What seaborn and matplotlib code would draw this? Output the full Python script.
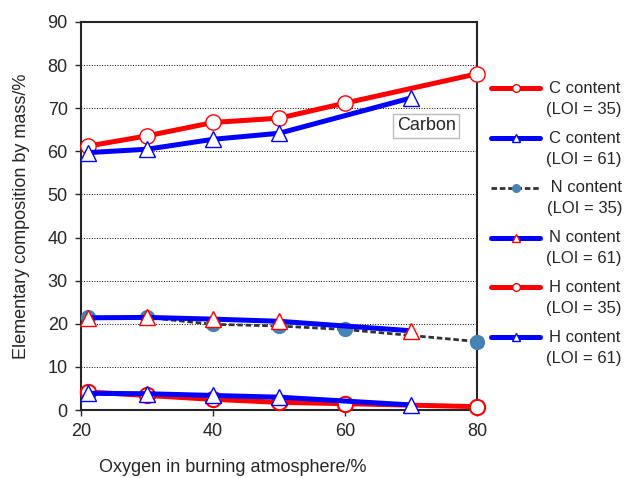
import matplotlib
matplotlib.use('Agg')
import matplotlib.pyplot as plt
from matplotlib.lines import Line2D
from matplotlib.legend_handler import HandlerLine2D
import seaborn as sns
import pandas as pd

sns.set_style('ticks')
plt.rcParams['font.family'] = ['Liberation Sans', 'DejaVu Sans']

# oxygen level (%) and elemental composition (mass %)
x_c35 = [21, 30, 40, 50, 60, 80]
c_loi35 = [61.2, 63.6, 66.7, 67.7, 71.2, 78.0]
x_c61 = [21, 30, 40, 50, 70]
c_loi61 = [59.7, 60.5, 62.8, 64.2, 72.4]
x_n35 = [21, 30, 40, 50, 60, 80]
n_loi35 = [21.6, 21.5, 19.9, 19.5, 18.7, 15.9]
x_n61 = [21, 30, 40, 50, 70]
n_loi61 = [21.4, 21.5, 21.1, 20.6, 18.4]
x_h35 = [21, 30, 40, 50, 60, 80]
h_loi35 = [4.2, 3.4, 2.5, 1.8, 1.5, 0.8]
x_h61 = [21, 30, 40, 50, 70]
h_loi61 = [3.9, 3.8, 3.4, 3.0, 1.2]

labels = ['C content\n(LOI = 35)', 'C content\n(LOI = 61)', ' N content\n(LOI = 35)',
          'N content\n(LOI = 61)', 'H content\n(LOI = 35)', 'H content\n(LOI = 61)']

fig = plt.figure(figsize=(6.28, 4.78), dpi=100)
ax = fig.add_axes([0.129, 0.142, 0.631, 0.812])

styles = [
    dict(color='red', lw=3.6, marker='o', ms=11, mfc='white', mec='red', mew=1),
    dict(color='blue', lw=3.6, marker='^', ms=11, mfc='white', mec='blue', mew=1),
    dict(color='#333333', lw=2, ls=(0, (2, 1)), marker='o', ms=11, mfc='steelblue', mec='steelblue', mew=0),
    dict(color='blue', lw=3.6, marker='^', ms=11, mfc='white', mec='red', mew=1),
    dict(color='red', lw=3.6, marker='o', ms=11, mfc='white', mec='red', mew=1.5),
    dict(color='blue', lw=3.6, marker='^', ms=11, mfc='white', mec='blue', mew=1),
]
series = [(x_c35, c_loi35), (x_c61, c_loi61), (x_n35, n_loi35),
          (x_n61, n_loi61), (x_h35, h_loi35), (x_h61, h_loi61)]

for i, (xs, ys) in enumerate(series):
    df = pd.DataFrame({'x': xs, 'y': ys})
    sns.lineplot(data=df, x='x', y='y', ax=ax, clip_on=False, zorder=3 + i * 0.1, **styles[i])

ax.set_xlim(20, 80)
ax.set_ylim(0, 90)
ax.set_xticks([20, 40, 60, 80])
ax.set_yticks(range(0, 91, 10))
ax.yaxis.grid(True, color='black', ls=':', lw=0.7)
ax.tick_params(labelsize=13, direction='out', length=4, width=1)
ax.tick_params(axis='y', pad=5.5)
ax.tick_params(axis='x', pad=5)
for s in ax.spines.values():
    s.set_linewidth(1.5)
ax.set_xlabel('Oxygen in burning atmosphere/%', fontsize=13)
ax.set_ylabel('Elementary composition by mass/%', fontsize=13)
ax.xaxis.set_label_coords(0.384, -0.125)
ax.yaxis.set_label_coords(-0.129, 0.5)

ax.text(72.3, 65.9, 'Carbon', fontsize=13, ha='center', va='center',
        bbox=dict(boxstyle='square,pad=0.2', fc='white', ec='#bbbbbb', lw=1))


# legend handle sits level with the first line of each two-line label
class UpHandler(HandlerLine2D):
    def create_artists(self, legend, orig_handle, xdescent, ydescent,
                       width, height, fontsize, trans):
        return super().create_artists(legend, orig_handle, xdescent, ydescent - 15.5,
                                      width, height, fontsize, trans)


handles = []
for st in styles:
    h = dict(st)
    h['ms'] = 5.5
    h['mew'] = 1
    handles.append(Line2D([], [], **h))
leg = fig.legend(handles, labels, loc='upper left', bbox_to_anchor=(0.772, 0.845),
                 bbox_transform=fig.transFigure, frameon=False, fontsize=12,
                 handlelength=2.9, labelspacing=0.83, borderaxespad=0,
                 handletextpad=0.4, handler_map={Line2D: UpHandler()})
for t in leg.get_texts():
    t.set_multialignment('center')
    t.set_linespacing(1.5)

fig.savefig('out.png', dpi=100)
